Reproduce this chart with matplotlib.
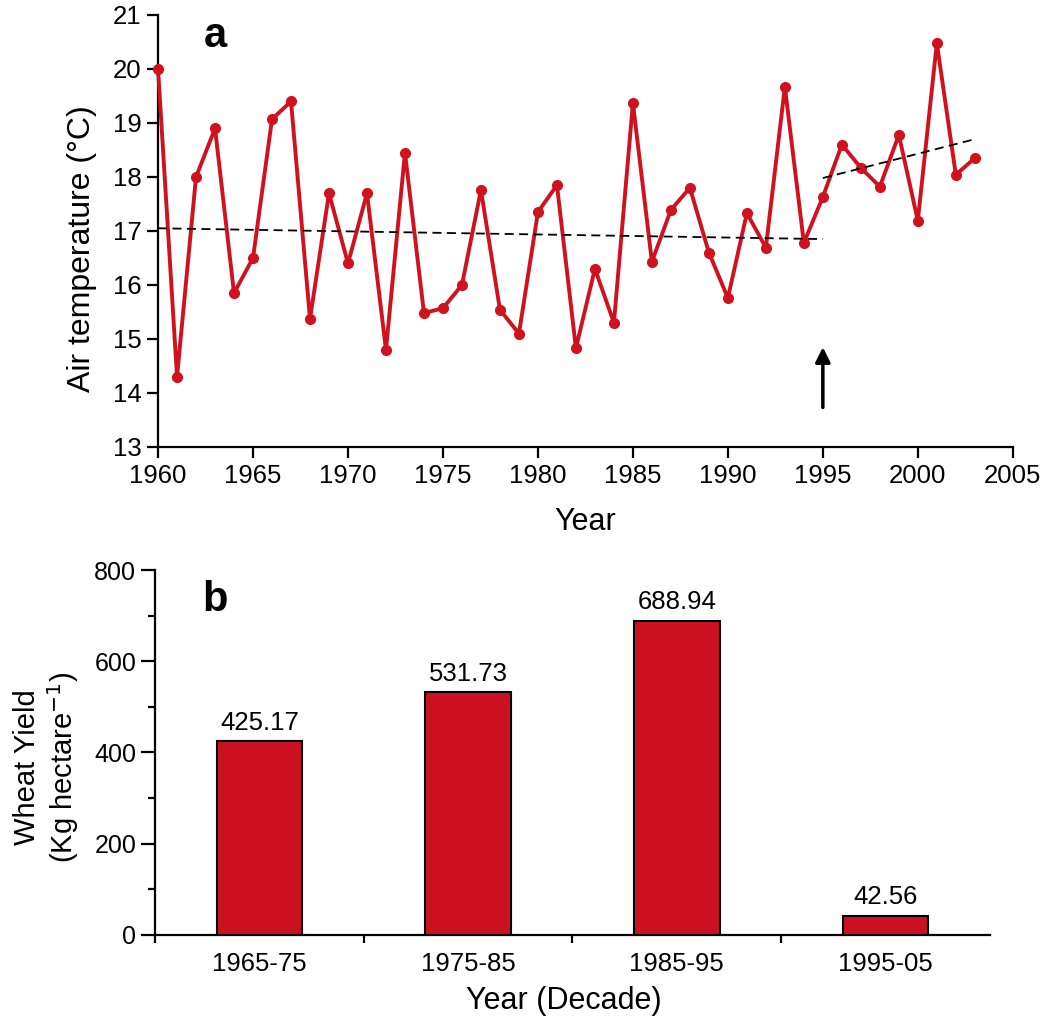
import numpy as np
import matplotlib.pyplot as plt

plt.rcParams['font.family'] = ['Liberation Sans', 'DejaVu Sans']

# panel a: mean air temperature by year
years = np.arange(1960, 2004)
temps = [20.0, 14.3, 18.0, 18.9, 15.85, 16.5, 19.07, 19.4, 15.37, 17.7,
         16.4, 17.7, 14.8, 18.45, 15.48, 15.57, 16.0, 17.76, 15.54, 15.1,
         17.35, 17.85, 14.83, 16.3, 15.3, 19.37, 16.43, 17.39, 17.8, 16.6,
         15.76, 17.33, 16.69, 19.67, 16.78, 17.63, 18.6, 18.17, 17.82, 18.78,
         17.19, 20.48, 18.04, 18.35]
trend1_x = [1960, 1995]
trend1_y = [17.05, 16.85]
trend2_x = [1995, 2003]
trend2_y = [17.98, 18.7]

# panel b: wheat yield by decade
decades = ['1965-75', '1975-85', '1985-95', '1995-05']
yields = [425.17, 531.73, 688.94, 42.56]

red = '#D0121E'

fig = plt.figure(figsize=(10.55, 10.33), dpi=100)

ax1 = fig.add_axes([0.1498, 0.5673, 0.8102, 0.4182])
ax1.plot(years, temps, color=red, lw=2.8, marker='o', ms=7, clip_on=False, zorder=3)
ax1.plot(trend1_x, trend1_y, color='black', lw=1.3, ls=(0, (5, 3)), zorder=4)
ax1.plot(trend2_x, trend2_y, color='black', lw=1.3, ls=(0, (5, 3)), zorder=4)
ax1.annotate('', xy=(1995, 14.9), xytext=(1995, 13.68),
             arrowprops=dict(arrowstyle='-|>', color='black', lw=2.5,
                             mutation_scale=22))
ax1.set_xlim(1960, 2005)
ax1.set_ylim(13, 21)
ax1.set_xticks(range(1960, 2006, 5))
ax1.set_yticks(range(13, 22))
ax1.set_xlabel('Year', fontsize=22)
ax1.xaxis.set_label_coords(0.5, -0.14)
ax1.xaxis.label.set_va('top')
ax1.set_ylabel('Air temperature (°C)', fontsize=23)
ax1.yaxis.set_label_coords(-0.071, 0.46)
for s in ['top', 'right']:
    ax1.spines[s].set_visible(False)
for s in ['left', 'bottom']:
    ax1.spines[s].set_linewidth(1.6)
ax1.tick_params(direction='out', length=8, width=1.6, labelsize=18.5, pad=4)
fig.text(0.204, 0.965, 'a', fontsize=30, fontweight='bold', ha='center', va='center')

ax2 = fig.add_axes([0.1469, 0.0949, 0.7915, 0.3533])
x = np.arange(len(decades))
bars = ax2.bar(x, yields, width=0.41, color='#CC1120', edgecolor='black', lw=1.5, zorder=3)
for b, v in zip(bars, yields):
    ax2.text(b.get_x() + b.get_width() / 2, v + 14, f'{v:.2f}', ha='center',
             va='bottom', fontsize=18.5)
ax2.set_xlim(-0.5, 3.5)
ax2.set_ylim(0, 800)
ax2.set_yticks(range(0, 801, 200))
ax2.set_yticks(range(100, 800, 200), minor=True)
ax2.set_xticks(np.arange(-0.5, 3.0, 1.0))
ax2.set_xticklabels([])
ax2.set_xticks(x, minor=True)
ax2.set_xticklabels(decades, minor=True)
ax2.tick_params(axis='x', which='major', direction='out', length=6, width=1.6)
ax2.tick_params(axis='x', which='minor', length=0, labelsize=18.5, pad=12)
ax2.tick_params(axis='y', which='major', direction='out', length=10, width=1.6, labelsize=18)
ax2.tick_params(axis='y', which='minor', direction='out', length=5, width=1.6)
for s in ['top', 'right']:
    ax2.spines[s].set_visible(False)
for s in ['left', 'bottom']:
    ax2.spines[s].set_linewidth(1.6)
ax2.set_xlabel('Year (Decade)', fontsize=22)
ax2.xaxis.set_label_coords(0.49, -0.14)
ax2.xaxis.label.set_va('top')
ax2.set_ylabel('Wheat Yield\n(Kg hectare$^{-1}$)', fontsize=21, linespacing=1.15)
ax2.yaxis.set_label_coords(-0.088, 0.46)
fig.text(0.204, 0.419, 'b', fontsize=30, fontweight='bold', ha='center', va='center')

fig.savefig('out.png', dpi=100, facecolor='white')
